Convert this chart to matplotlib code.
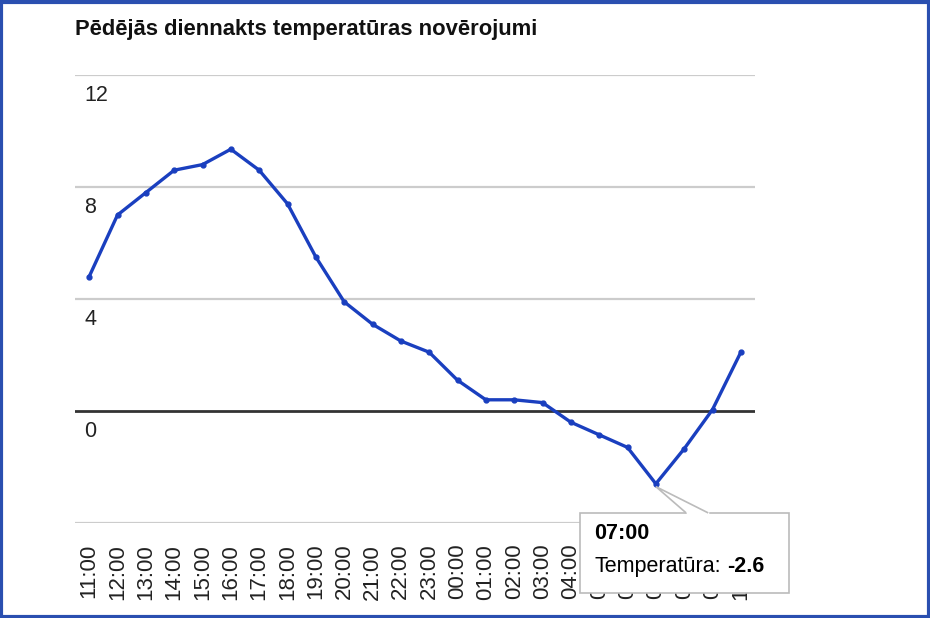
import numpy as np
import matplotlib.pyplot as plt
from matplotlib.patches import Rectangle, Polygon

plt.rcParams['font.family'] = ['Liberation Sans', 'DejaVu Sans']

hours = ["11:00", "12:00", "13:00", "14:00", "15:00", "16:00", "17:00", "18:00",
         "19:00", "20:00", "21:00", "22:00", "23:00", "00:00", "01:00", "02:00",
         "03:00", "04:00", "05:00", "06:00", "07:00", "08:00", "09:00", "10:00"]
temps = [4.8, 7.0, 7.8, 8.6, 8.8, 9.35, 8.6, 7.4, 5.5, 3.9, 3.1, 2.5,
         2.1, 1.1, 0.4, 0.4, 0.3, -0.4, -0.85, -1.3, -2.6, -1.35, 0.05, 2.1]
y_ticks = [12, 8, 4, 0, -4]
y_labels = ["12", "8", "4", "0", ""]
hover_idx = 20

fig = plt.figure(figsize=(9.3, 6.18), dpi=100)
ax = fig.add_axes([75 / 930, 1 - 523 / 618, 680 / 930, 448 / 618])

x = np.arange(len(hours))
for yt in y_ticks:
    if yt == 0:
        ax.axhline(yt, color="#333333", lw=2.0, zorder=1)
    else:
        ax.axhline(yt, color="#cccccc", lw=1.6, zorder=1)
ax.plot(x, temps, color="#1a3fbf", lw=2.4, marker="o", ms=3.5, zorder=3)

ax.set_xlim(-0.5, len(hours) - 0.5)
ax.set_ylim(-4, 12)
ax.set_yticks([])
ax.set_xticks(x)
ax.set_xticklabels(hours, rotation=90, fontsize=16, color="#222222")
ax.tick_params(axis="x", length=0, pad=15)
for s in ax.spines.values():
    s.set_visible(False)

# y labels sit just under each gridline, inside the plot
for yt, lab in zip(y_ticks, y_labels):
    ax.text(0.014, yt - 0.35, lab, transform=ax.get_yaxis_transform(),
            ha="left", va="top", fontsize=15.5, color="#222222")

fig.text(75 / 930, 1 - 29 / 618, "Pēdējās diennakts temperatūras novērojumi",
         ha="left", va="center", fontsize=15.8, fontweight="bold", color="#111111")

# tooltip for the hovered point
hx, hy = x[hover_idx], temps[hover_idx]
box_x0, box_top = 17.33, -3.64
box_w, box_h = 7.38, 2.86
ax.add_patch(Rectangle((box_x0, box_top - box_h), box_w, box_h, facecolor="white",
                       edgecolor="#bbbbbb", lw=1.2, clip_on=False, zorder=10))
ax.plot([hx + 1.12, hx + 1.8], [box_top, box_top], color="white", lw=2.5,
        clip_on=False, zorder=11)
ax.add_patch(Polygon([[hx + 1.07, box_top], [hx, hy - 0.1], [hx + 1.85, box_top]],
                     closed=False, facecolor="white", edgecolor="#bbbbbb", lw=1.2,
                     clip_on=False, zorder=11))
ax.text(box_x0 + 0.5, -4.36, hours[hover_idx], fontsize=15.5,
        fontweight="bold", va="center", ha="left", zorder=12, clip_on=False)
t = ax.text(box_x0 + 0.5, -5.54, "Temperatūra:", fontsize=15.5,
            va="center", ha="left", zorder=12, clip_on=False)
fig.canvas.draw()
bb = t.get_window_extent().transformed(ax.transData.inverted())
ax.text(bb.x1 + 0.2, -5.54, f"{hy}", fontsize=15.5, fontweight="bold",
        va="center", ha="left", zorder=12, clip_on=False)

# blue frame around the picture
fig.patches.append(Rectangle((0.0015, 0.002), 0.997, 0.995, transform=fig.transFigure,
                             fill=False, edgecolor="#2a4fb0", lw=3))

fig.savefig("out.png", dpi=100)
